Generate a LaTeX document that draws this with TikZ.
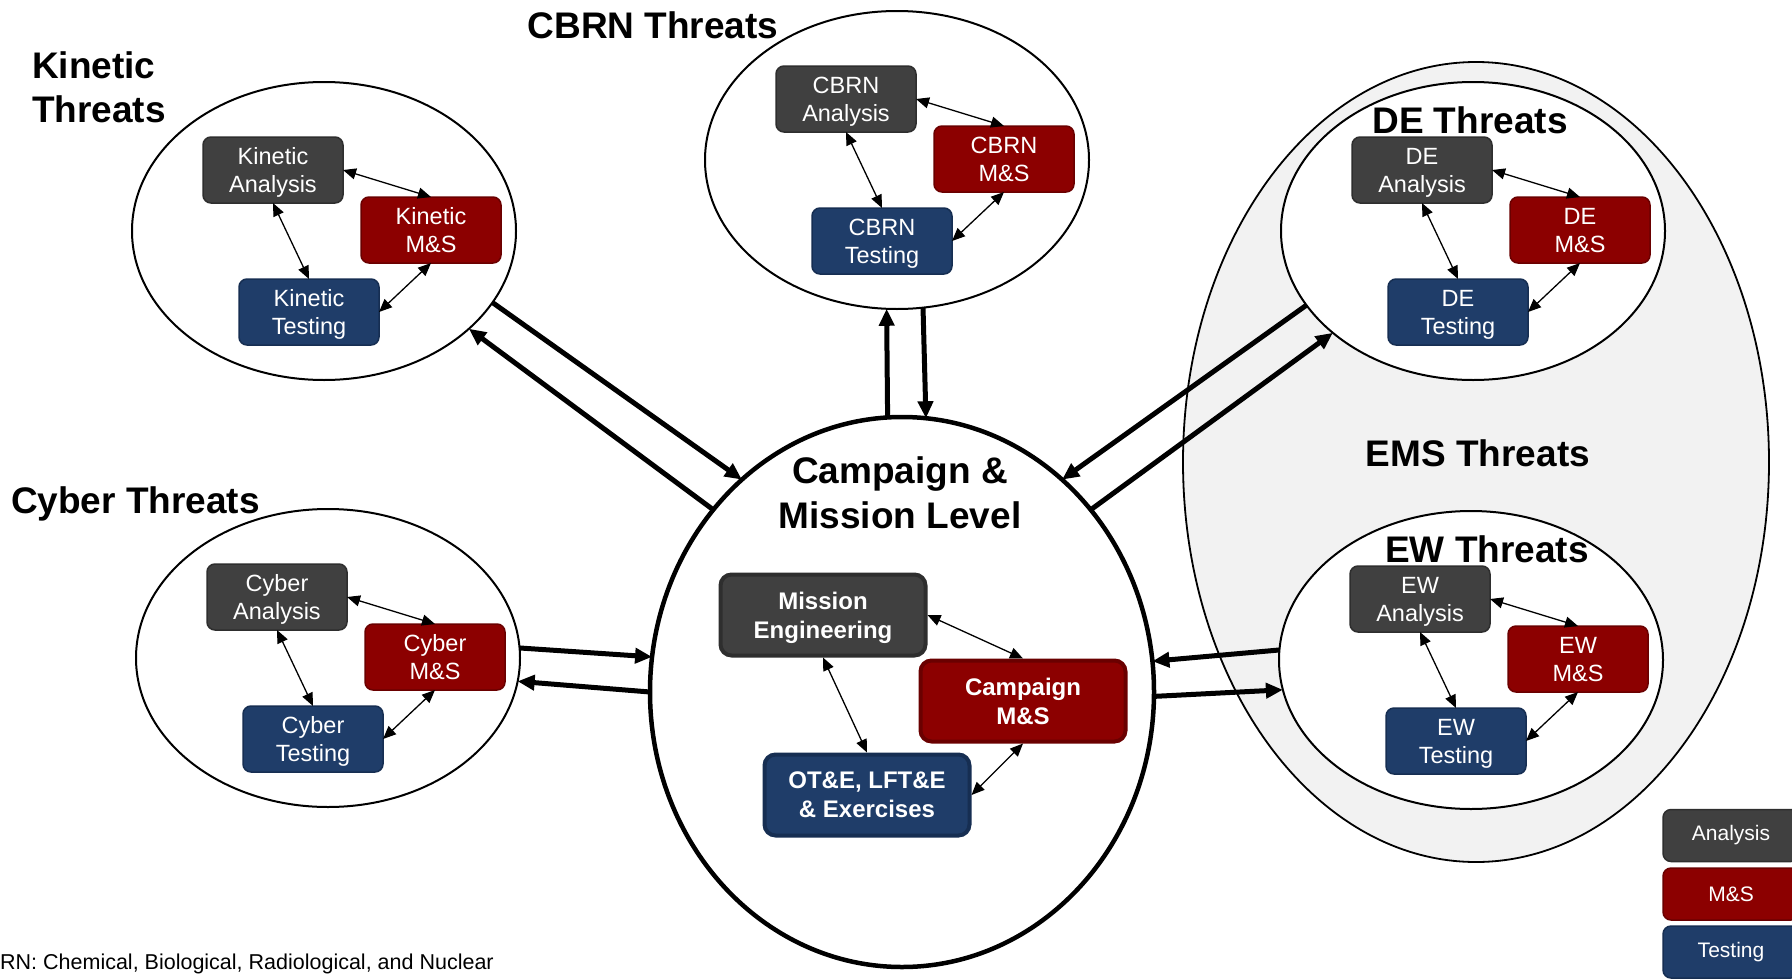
\documentclass[tikz,border=0pt]{standalone}
\usepackage{fontspec}
\setmainfont{Liberation Sans}
\usetikzlibrary{arrows.meta,shapes.geometric,calc}

\definecolor{anafill}{HTML}{404040}
\definecolor{anaborder}{HTML}{2E2E2E}
\definecolor{msfill}{HTML}{8C0000}
\definecolor{msborder}{HTML}{6A0000}
\definecolor{testfill}{HTML}{1F3D69}
\definecolor{testborder}{HTML}{162E52}
\definecolor{emsfill}{HTML}{F2F2F2}

% one threat area: ellipse with its analysis, M&S and testing boxes
\newcommand{\threatgroup}[3]{%
  \node[threatell] (#1) at (#2) {};
  \node[smallbox, anastyle] (#1a) at ($(#1)+(-51,-61)$) {#3\\Analysis};
  \node[smallbox, msstyle] (#1m) at ($(#1)+(107,-1)$) {#3\\M\&S};
  \node[smallbox, teststyle] (#1t) at ($(#1)+(-15,81)$) {#3\\Testing};
  \draw[thinarrow] (#1a.east) -- (#1m.north);
  \draw[thinarrow] (#1a.south) -- (#1t.north);
  \draw[thinarrow] (#1m.south) -- (#1t.east);
}

\begin{document}
\begin{tikzpicture}[x=1pt, y=-1pt,
  threatell/.style={ellipse, draw=black, line width=2pt, fill=white,
    minimum width=384pt, minimum height=298pt, inner sep=0pt, outer sep=0pt},
  smallbox/.style={rectangle, rounded corners=8pt, line width=1.5pt,
    minimum width=140pt, minimum height=66pt, inner sep=0pt, outer sep=0pt,
    align=center, text=white, text depth=0pt, font=\fontsize{23.5}{28}\selectfont},
  anastyle/.style={fill=anafill, draw=anaborder},
  msstyle/.style={fill=msfill, draw=msborder},
  teststyle/.style={fill=testfill, draw=testborder},
  bigbox/.style={rectangle, rounded corners=11pt, line width=4pt,
    minimum width=205pt, minimum height=81pt, inner sep=0pt, outer sep=2pt,
    align=center, text=white, text depth=0pt, font=\bfseries\fontsize{24}{29}\selectfont},
  legbox/.style={rectangle, rounded corners=8pt, line width=1.5pt,
    minimum width=136pt, minimum height=52pt, inner sep=0pt, outer sep=0pt,
    text=white, font=\fontsize{21}{25}\selectfont},
  thinarrow/.style={line width=1.3pt,
    {Triangle[length=13pt,width=11pt]}-{Triangle[length=13pt,width=11pt]}},
  bigarrow/.style={line width=5pt, -{Triangle[length=17pt,width=15pt]}},
  title/.style={inner sep=0pt, outer sep=0pt, font=\bfseries\fontsize{37}{44}\selectfont},
]
\clip (0,0) rectangle (1792,980);
\fill[white] (0,0) rectangle (1792,980);

% EMS area holding the DE and EW groups
\node[ellipse, draw=black, line width=1.8pt, fill=emsfill,
  minimum width=586pt, minimum height=800pt, inner sep=0pt, outer sep=0pt]
  (ems) at (1476,462) {};

% threat groups
\threatgroup{kin}{324,231}{Kinetic}
\threatgroup{cb}{897,160}{CBRN}
\threatgroup{cy}{328,658}{Cyber}
\threatgroup{de}{1473,231}{DE}
\threatgroup{ew}{1471,660}{EW}

% campaign and mission level
\node[ellipse, draw=black, line width=4.5pt, fill=white,
  minimum width=504pt, minimum height=550pt, inner sep=0pt, outer sep=0pt]
  (cm) at (902,692) {};
\node[bigbox, fill=anafill, draw=anaborder] (me) at (823,615) {Mission\\Engineering};
\node[bigbox, fill=msfill, draw=msborder] (cms) at (1023,701) {Campaign\\M\&S};
\node[bigbox, fill=testfill, draw=testborder] (ote) at (867,795) {OT\&E, LFT\&E\\\& Exercises};
\draw[thinarrow] (me.east) -- (cms.north);
\draw[thinarrow] (me.south) -- (ote.north);
\draw[thinarrow] (cms.south) -- (ote.east);

% exchanges between the threat groups and the campaign level
\draw[bigarrow] (kin.-23.4) -- (cm.127.9);
\draw[bigarrow] (cm.136.2) -- (kin.-34.9);
\draw[bigarrow] (cm.93.3) -- (cb.-94.3);
\draw[bigarrow] (cb.-80.0) -- (cm.85.6);
\draw[bigarrow] (de.-156.8) -- (cm.53.2);
\draw[bigarrow] (cm.44.8) -- (de.-144.4);
\draw[bigarrow] (cy.3.2) -- (cm.172.3);
\draw[bigarrow] (cm.180) -- (cy.-7.3);
\draw[bigarrow] (ew.177) -- (cm.7.9);
\draw[bigarrow] (cm.-1.6) -- (ew.-171.6);

% titles
\node[title, anchor=west, align=left] (kinT) at (32,87) {Kinetic\\Threats};
\node[title, anchor=base] (cbT) at (653,38) {CBRN Threats};
\node[title, anchor=base west] (cyT) at (11,513) {Cyber Threats};
\node[title, anchor=base] (deT) at (1470,133) {DE Threats};
\node[title, anchor=base] (emsT) at (1478,466) {EMS Threats};
\node[title, anchor=base] (ewT) at (1487,562) {EW Threats};
\node[title, align=center, font=\bfseries\fontsize{37}{45}\selectfont] (cmT) at (900,493) {Campaign \&\\Mission Level};

% legend
\node[legbox, fill=anafill, draw=anaborder] (legA) at (1731,835.5) {Analysis};
\node[legbox, fill=msfill, draw=msborder] (legM) at (1731,894) {M\&S};
\node[legbox, fill=testfill, draw=testborder] (legT) at (1731,952) {Testing};

% footnote
\node[anchor=base west, inner sep=0pt, font=\fontsize{21.5}{25}\selectfont] (note) at (0,969)
  {RN: Chemical, Biological, Radiological, and Nuclear};
\end{tikzpicture}
\end{document}
